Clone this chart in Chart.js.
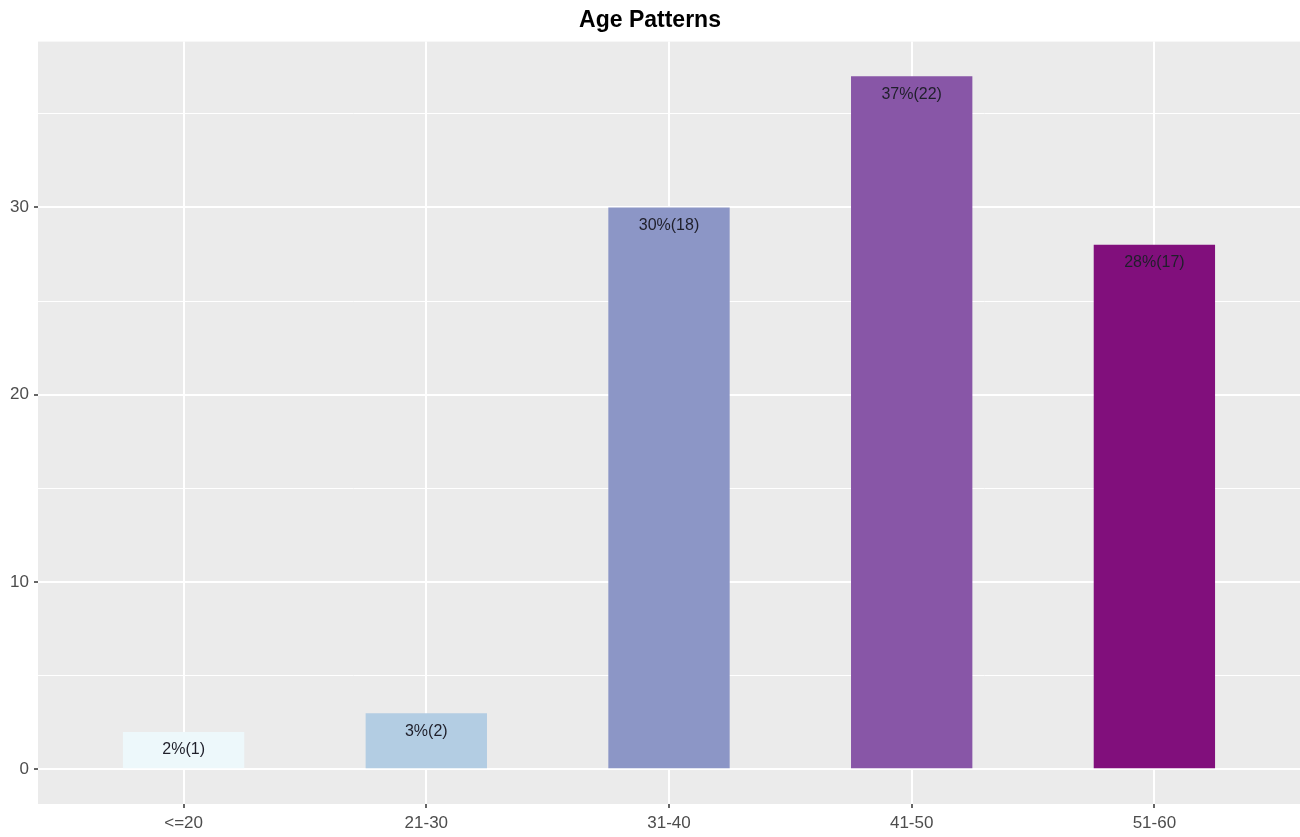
<!DOCTYPE html>
<html>
<head>
<meta charset="utf-8">
<script src="https://cdn.jsdelivr.net/npm/chart.js@4/dist/chart.umd.min.js"></script>
<style>
  html, body { margin: 0; padding: 0; background: #ffffff; }
  #wrap { width: 1300px; height: 837px; }
</style>
</head>
<body>
<div id="wrap"><canvas id="c" width="1300" height="837"></canvas></div>
<script>
const categories = ["<=20", "21-30", "31-40", "41-50", "51-60"];
const percents = [2, 3, 30, 37, 28];
const counts = [1, 2, 18, 22, 17];
const barColors = ["#EDF8FB", "#B3CDE3", "#8C96C6", "#8856A7", "#810F7C"];
const yMajorTicks = [0, 10, 20, 30];
const yMinorTicks = [5, 15, 25, 35];
const chartTitle = "Age Patterns";

const yMaxData = Math.max(...percents);
const yPad = yMaxData * 0.05;

const panelBg = {
  id: 'panelBg',
  beforeDraw(chart) {
    const {ctx, chartArea: a} = chart;
    ctx.save();
    ctx.fillStyle = '#EBEBEB';
    ctx.fillRect(a.left, a.top, a.right - a.left, a.bottom - a.top);
    ctx.restore();
  }
};

const barLabels = {
  id: 'barLabels',
  afterDatasetsDraw(chart) {
    const {ctx} = chart;
    const meta = chart.getDatasetMeta(0);
    ctx.save();
    ctx.font = '16px "Liberation Sans", Arial, sans-serif';
    ctx.fillStyle = '#1f1f2a';
    ctx.textAlign = 'center';
    ctx.textBaseline = 'middle';
    meta.data.forEach((bar, i) => {
      ctx.fillText(percents[i] + '%(' + counts[i] + ')', bar.x, bar.y + 18);
    });
    ctx.restore();
  }
};

new Chart(document.getElementById('c'), {
  type: 'bar',
  data: {
    datasets: [{
      data: percents.map((v, i) => ({x: i, y: v})),
      backgroundColor: barColors,
      borderWidth: 0,
      barPercentage: 0.5,
      categoryPercentage: 1.0
    }]
  },
  options: {
    responsive: false,
    animation: false,
    layout: { padding: 0 },
    plugins: {
      legend: { display: false },
      tooltip: { enabled: false },
      title: {
        display: true,
        text: chartTitle,
        color: '#000000',
        font: { family: '"Liberation Sans", Arial, sans-serif', size: 23, weight: 'bold', lineHeight: 1.2 },
        padding: { top: 7, bottom: 7 }
      }
    },
    scales: {
      x: {
        type: 'linear',
        min: -0.6,
        max: categories.length - 1 + 0.6,
        offset: false,
        afterBuildTicks(scale) {
          scale.ticks = categories.map((c, i) => ({value: i}));
        },
        afterFit(scale) { scale.height = 33; },
        border: { display: false },
        grid: {
          offset: false,
          color: '#FFFFFF',
          lineWidth: 2,
          drawTicks: true,
          tickLength: 4,
          tickColor: '#333333',
          tickWidth: 1.5
        },
        ticks: {
          padding: 5,
          color: '#4D4D4D',
          font: { family: '"Liberation Sans", Arial, sans-serif', size: 17 },
          maxRotation: 0,
          autoSkip: false,
          callback: (v) => categories[v]
        }
      },
      y: {
        min: -yPad,
        max: yMaxData + yPad,
        afterBuildTicks(scale) {
          scale.ticks = [...yMajorTicks, ...yMinorTicks].sort((a, b) => a - b).map(v => ({value: v}));
        },
        afterFit(scale) { scale.width = 38; },
        border: { display: false },
        grid: {
          color: '#FFFFFF',
          lineWidth: (ctx) => yMajorTicks.includes(ctx.tick && ctx.tick.value) ? 2 : 1,
          drawTicks: true,
          tickLength: 4,
          tickColor: (ctx) => yMajorTicks.includes(ctx.tick && ctx.tick.value) ? '#333333' : 'rgba(0,0,0,0)',
          tickWidth: 1.5
        },
        ticks: {
          padding: 5,
          color: '#4D4D4D',
          font: { family: '"Liberation Sans", Arial, sans-serif', size: 17 },
          callback: (v) => yMajorTicks.includes(v) ? String(v) : ''
        }
      }
    }
  },
  plugins: [panelBg, barLabels]
});
</script>
</body>
</html>
